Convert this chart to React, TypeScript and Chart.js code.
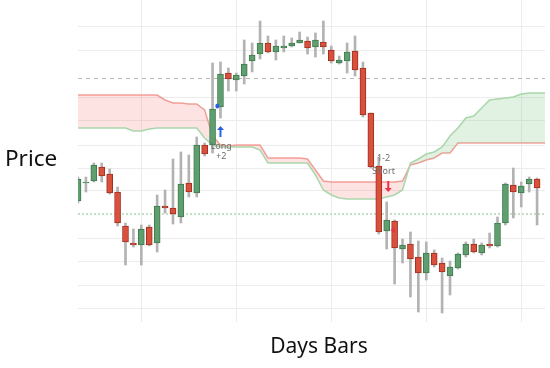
import React, { useEffect, useRef } from 'react';
import { Chart, registerables } from 'chart.js';

Chart.register(...registerables);

// ---- data ----
const DAYS: string[] = Array.from({ length: 60 }, (_, i) => String(i + 1));

const OPEN = [13.9, 15.7, 15.9, 17.3, 16.6, 14.8, 11.4, 9.7, 9.5, 11.3, 9.7, 13.4, 13.2, 12.3, 15.7, 14.7, 19.5, 19.5, 23.3, 26.7, 26.0, 26.4, 27.9, 28.6, 29.7, 28.8, 29.2, 29.4, 29.7, 29.9, 29.3, 29.8, 29.0, 27.7, 27.9, 28.9, 27.2, 22.7, 17.4, 10.9, 11.9, 9.1, 9.6, 8.3, 6.7, 8.7, 7.7, 6.4, 7.2, 8.5, 9.6, 8.7, 9.6, 9.4, 11.7, 15.5, 14.7, 15.6, 16.1];
const HIGH = [16.3, 16.3, 17.7, 17.7, 17.1, 15.3, 11.7, 11.1, 11.5, 11.5, 14.5, 15.0, 18.1, 18.8, 18.5, 20.3, 19.7, 27.7, 27.8, 27.2, 26.7, 30.0, 29.7, 31.9, 30.4, 30.0, 30.4, 30.2, 30.8, 30.3, 30.7, 31.9, 29.4, 28.4, 29.7, 30.4, 27.8, 22.7, 18.3, 13.8, 12.0, 10.1, 10.8, 9.9, 9.8, 9.0, 8.2, 7.9, 8.7, 9.8, 10.1, 9.7, 10.7, 12.3, 15.7, 17.2, 15.8, 16.3, 16.2];
const LOW = [13.7, 14.8, 15.8, 15.8, 14.6, 11.4, 7.5, 9.3, 7.5, 9.4, 8.8, 12.7, 11.6, 11.7, 14.3, 14.3, 18.4, 18.7, 22.2, 24.9, 24.9, 25.6, 26.8, 28.1, 28.7, 28.0, 28.8, 29.3, 29.7, 28.6, 28.3, 28.6, 27.7, 27.6, 26.7, 26.4, 22.3, 17.2, 10.6, 9.1, 5.6, 7.7, 4.3, 2.8, 6.0, 7.3, 2.7, 4.5, 7.1, 8.3, 8.7, 8.5, 9.2, 9.3, 11.5, 12.2, 13.3, 14.8, 11.5];
const CLOSE = [16.1, 15.8, 17.5, 16.4, 14.7, 11.7, 9.8, 9.5, 11.1, 9.5, 13.4, 13.2, 12.6, 15.6, 14.8, 19.5, 18.6, 23.1, 26.6, 26.1, 26.5, 27.6, 28.5, 29.7, 28.8, 29.4, 29.4, 29.7, 30.0, 29.2, 30.0, 29.3, 27.9, 28.0, 28.8, 27.0, 22.5, 17.3, 10.8, 12.0, 9.2, 9.5, 8.1, 6.7, 8.7, 7.5, 6.8, 7.3, 8.6, 9.6, 8.8, 9.5, 9.4, 11.7, 15.6, 14.8, 15.4, 16.1, 15.2];

const CLOUD_RED = [24.5, 24.5, 24.5, 24.5, 24.5, 24.5, 24.5, 24.5, 24.5, 24.5, 24.5, 24.0, 23.7, 23.7, 23.6, 23.6, 23.0, 20.4, 19.5, 19.4, 19.5, 19.5, 19.5, 19.5, 18.2, 18.2, 18.2, 18.2, 18.2, 18.1, 17.0, 15.9, 15.8, 15.8, 15.8, 15.8, 15.8, 15.8, 15.8, 15.8, 15.8, 15.9, 17.5, 17.7, 18.0, 18.2, 18.7, 18.7, 19.7, 19.7, 19.7, 19.7, 19.7, 19.7, 19.7, 19.7, 19.7, 19.7, 19.7, 19.7];
const CLOUD_GREEN = [21.2, 21.2, 21.2, 21.2, 21.2, 21.2, 21.2, 20.9, 20.9, 21.1, 21.2, 21.2, 21.2, 21.2, 21.2, 21.2, 20.2, 19.5, 19.3, 19.3, 19.3, 19.3, 19.3, 19.0, 17.7, 17.7, 17.7, 17.7, 17.7, 17.7, 16.5, 15.0, 14.5, 14.2, 14.1, 14.1, 14.1, 14.1, 14.1, 14.3, 14.5, 15.0, 17.7, 18.1, 18.6, 18.8, 19.3, 20.4, 21.2, 22.2, 22.4, 23.2, 24.0, 24.1, 24.2, 24.3, 24.6, 24.7, 24.7, 24.7];

const GRID_LEVELS = [31.4, 29.0, 24.3, 22.0, 19.5, 17.2, 15.0, 10.2, 7.9, 5.5, 3.2];
const DASHED_LEVEL = 26.2;
const SIGNAL_LEVEL = 12.6;
const Y_MIN = 1.8;
const Y_MAX = 34.0;

// signals: [dayIndex, price]
const LONG_LABEL = { i: 18.1, p: 19.4, text: 'Long', sub: '+2', subP: 18.4 };
const LONG_DOT = { i: 17.6, p: 23.4 };
const LONG_ARROW = { i: 18.0, p: 20.9 };
const SHORT_LABEL = { i: 38.6, p: 18.2, text: '1-2', sub: 'Short', subP: 16.9 };
const SHORT_ARROW = { i: 39.2, p: 15.3 };
const SHORT_MARK = { i: 39.8, p: 11.0 };

const GREEN = '#5f9e6f';
const GREEN_EDGE = '#3e7a4e';
const RED = '#d9503c';
const RED_EDGE = '#a02f20';

export default function App() {
  const canvasRef = useRef<HTMLCanvasElement | null>(null);

  useEffect(() => {
    document.body.style.margin = '0';
    const canvas = canvasRef.current;
    if (!canvas) return;

    const n = OPEN.length;
    const wick = DAYS.map((_, i) => (i < n ? [LOW[i], HIGH[i]] : null));
    const body = DAYS.map((_, i) => (i < n ? [OPEN[i], CLOSE[i]] : null));
    const up = DAYS.map((_, i) => (i < n ? CLOSE[i] >= OPEN[i] : true));

    const overlay = {
      id: 'overlay',
      beforeDatasetsDraw(chart: any) {
        const { ctx, chartArea, scales } = chart;
        const y = scales.y;
        ctx.save();
        ctx.beginPath();
        ctx.rect(chartArea.left, chartArea.top, chartArea.right - chartArea.left, chartArea.bottom - chartArea.top);
        ctx.clip();
        let py = Math.round(y.getPixelForValue(DASHED_LEVEL)) + 0.5;
        ctx.strokeStyle = '#b8b8b8';
        ctx.lineWidth = 1;
        ctx.setLineDash([4, 4]);
        ctx.beginPath();
        ctx.moveTo(chartArea.left, py);
        ctx.lineTo(chartArea.right, py);
        ctx.stroke();
        py = Math.round(y.getPixelForValue(SIGNAL_LEVEL));
        ctx.strokeStyle = '#c2e0c6';
        ctx.lineWidth = 2;
        ctx.setLineDash([2, 2]);
        ctx.beginPath();
        ctx.moveTo(chartArea.left, py);
        ctx.lineTo(chartArea.right, py);
        ctx.stroke();
        ctx.restore();
      },
      afterDatasetsDraw(chart: any) {
        const { ctx, scales } = chart;
        const x = scales.x;
        const y = scales.y;
        const X = (i: number) => x.getPixelForValue(i);
        const Y = (p: number) => y.getPixelForValue(p);
        ctx.save();
        ctx.setLineDash([]);
        ctx.font = '9px "Noto Sans", sans-serif';
        ctx.fillStyle = '#6e6e6e';
        ctx.textAlign = 'center';
        ctx.textBaseline = 'middle';
        ctx.fillText(LONG_LABEL.text, X(LONG_LABEL.i), Y(LONG_LABEL.p));
        ctx.fillText(LONG_LABEL.sub, X(LONG_LABEL.i), Y(LONG_LABEL.subP));
        ctx.fillText(SHORT_LABEL.text, X(SHORT_LABEL.i), Y(SHORT_LABEL.p));
        ctx.fillText(SHORT_LABEL.sub, X(SHORT_LABEL.i), Y(SHORT_LABEL.subP));
        ctx.fillStyle = '#2a62e6';
        ctx.beginPath();
        ctx.ellipse(X(LONG_DOT.i), Y(LONG_DOT.p), 2, 2.5, 0, 0, Math.PI * 2);
        ctx.fill();
        let ax = X(LONG_ARROW.i);
        let ay = Y(LONG_ARROW.p);
        ctx.strokeStyle = '#2a62e6';
        ctx.lineWidth = 2;
        ctx.beginPath();
        ctx.moveTo(ax, ay + 6);
        ctx.lineTo(ax, ay - 2);
        ctx.stroke();
        ctx.beginPath();
        ctx.moveTo(ax - 3.5, ay - 1);
        ctx.lineTo(ax + 3.5, ay - 1);
        ctx.lineTo(ax, ay - 5);
        ctx.closePath();
        ctx.fill();
        ax = X(SHORT_ARROW.i);
        ay = Y(SHORT_ARROW.p);
        ctx.strokeStyle = '#e8334a';
        ctx.fillStyle = '#e8334a';
        ctx.beginPath();
        ctx.moveTo(ax, ay - 6);
        ctx.lineTo(ax, ay + 2);
        ctx.stroke();
        ctx.beginPath();
        ctx.moveTo(ax - 3.5, ay + 1);
        ctx.lineTo(ax + 3.5, ay + 1);
        ctx.lineTo(ax, ay + 5);
        ctx.closePath();
        ctx.fill();
        ax = X(SHORT_MARK.i);
        ay = Y(SHORT_MARK.p);
        ctx.beginPath();
        ctx.moveTo(ax + 2, ay - 3);
        ctx.lineTo(ax + 2, ay + 3);
        ctx.lineTo(ax - 2.5, ay);
        ctx.closePath();
        ctx.fill();
        ctx.restore();
      },
      afterDraw(chart: any) {
        const { ctx, chartArea } = chart;
        ctx.save();
        ctx.fillStyle = '#111';
        ctx.textBaseline = 'middle';
        ctx.textAlign = 'left';
        ctx.font = '22.5px "Noto Sans", sans-serif';
        ctx.fillText('Price', 5, 160);
        ctx.textAlign = 'center';
        ctx.font = '21px "Noto Sans", sans-serif';
        ctx.fillText('Days Bars', 319, chartArea.bottom + 25);
        ctx.restore();
      },
    };

    const chart = new Chart(canvas, {
      type: 'bar',
      data: {
        labels: DAYS,
        datasets: [
          {
            type: 'bar',
            label: 'wick',
            data: wick as any,
            backgroundColor: '#b3b3b3',
            barThickness: 2,
            grouped: false,
            order: 2,
          } as any,
          {
            type: 'bar',
            label: 'body',
            data: body as any,
            backgroundColor: up.map((u) => (u ? GREEN : RED)),
            borderColor: up.map((u) => (u ? GREEN_EDGE : RED_EDGE)),
            borderWidth: 1,
            borderSkipped: false,
            barThickness: 6,
            grouped: false,
            order: 1,
          } as any,
          {
            type: 'line',
            label: 'cloudRed',
            data: CLOUD_RED,
            borderColor: '#f3a39c',
            borderWidth: 1.5,
            pointRadius: 0,
            tension: 0,
            fill: false,
            order: 5,
          } as any,
          {
            type: 'line',
            label: 'cloudGreen',
            data: CLOUD_GREEN,
            borderColor: '#a9d6ab',
            borderWidth: 1.5,
            pointRadius: 0,
            tension: 0,
            fill: { target: 2, above: 'rgba(120, 195, 125, 0.22)', below: 'rgba(245, 120, 115, 0.2)' },
            order: 4,
          } as any,
        ],
      },
      options: {
        responsive: false,
        animation: false,
        devicePixelRatio: 1,
        layout: { padding: { left: 78, right: 5, top: 0, bottom: 46 } },
        plugins: { legend: { display: false }, tooltip: { enabled: false }, title: { display: false } },
        scales: {
          x: {
            type: 'category',
            offset: false,
            grid: {
              offset: false,
              drawTicks: false,
              color: (c: any) => (c.index % 12 === 8 ? '#ececec' : 'rgba(0,0,0,0)'),
              lineWidth: 1,
            },
            border: { display: false },
            ticks: { display: false, autoSkip: false },
          },
          y: {
            type: 'linear',
            min: Y_MIN,
            max: Y_MAX,
            grid: { drawTicks: false, color: '#ececec', lineWidth: 1 },
            border: { display: false },
            ticks: { display: false },
            afterBuildTicks: (scale: any) => {
              scale.ticks = GRID_LEVELS.map((v) => ({ value: v }));
            },
          },
        },
      } as any,
      plugins: [overlay],
    });

    return () => chart.destroy();
  }, []);

  return (
    <div style={{ width: 550, height: 368 }}>
      <canvas ref={canvasRef} width={550} height={368} style={{ display: 'block' }} />
    </div>
  );
}
